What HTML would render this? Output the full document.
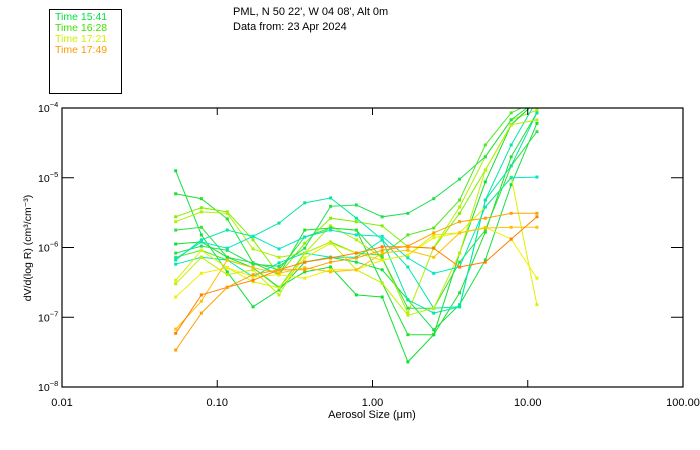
<!DOCTYPE html>
<html><head><meta charset="utf-8"><style>
html,body{margin:0;padding:0;background:#fff;}
svg{display:block;font-family:"Liberation Sans","DejaVu Sans",sans-serif;}
</style></head><body>
<svg id="chart" width="700" height="450" viewBox="0 0 700 450">
<defs><clipPath id="pc"><rect x="62" y="108" width="621" height="279"/></clipPath></defs>
<g>
<rect x="49.5" y="9.5" width="72" height="84" fill="none" stroke="#000"/>
<text x="55" y="20" font-size="10.5" fill="#00e040">Time 15:41</text>
<text x="55" y="31" font-size="10.5" fill="#40e000">Time 16:28</text>
<text x="55" y="42" font-size="10.5" fill="#d0f000">Time 17:21</text>
<text x="55" y="53" font-size="10.5" fill="#ff9a00">Time 17:49</text>
</g>
<text x="233" y="15" font-size="11">PML, N 50 22', W 04 08', Alt 0m</text>
<text x="233" y="30" font-size="11">Data from: 23 Apr 2024</text>
<g id="series" clip-path="url(#pc)"></g>
<rect x="62" y="108" width="621" height="279" fill="none" stroke="#000" stroke-width="1.2"/>
<g id="axes"></g>
<text x="372" y="418" font-size="11" text-anchor="middle">Aerosol Size (μm)</text>
<text transform="translate(31,248) rotate(-90)" font-size="10.5" text-anchor="middle">dV/d(log R) (cm³/cm⁻³)</text>
</svg>
<script>
const sizes=[0.054,0.079,0.116,0.17,0.25,0.366,0.537,0.787,1.154,1.69,2.48,3.64,5.33,7.82,11.46];
const xTicks=[0.01,0.1,1,10,100];
const xTickLabels=["0.01","0.10","1.00","10.00","100.00"];
const yTicks=[-8,-7,-6,-5,-4];
const seriesColors=["#10e040","#20e030","#80f000","#b0f000","#30e040","#00e8a0","#10e030","#20e050","#50e820","#00e8b0","#e0f000","#c0f000","#f0f000","#00e8c0","#ffc000","#ff8000","#ffa000"];
// log10 of dV/dlogR
const s1=[-4.90,-5.82,-6.35,-6.85,-6.61,-6.21,-6.14,-6.21,-6.32,-6.75,-7.18,-6.82,-6.18,-5.10,-4.22];
const s2=[-5.23,-5.30,-5.59,-6.22,-6.39,-5.75,-5.72,-5.75,-6.51,-7.25,-7.25,-6.65,-5.78,-4.70,-4.07];
const s3=[-5.56,-5.43,-5.49,-5.89,-6.39,-5.94,-5.58,-5.63,-5.69,-5.99,-6.01,-5.51,-4.89,-4.24,-3.90];
const s4=[-5.63,-5.49,-5.51,-6.02,-6.14,-6.08,-5.69,-5.89,-6.15,-6.94,-6.00,-5.42,-4.70,-4.17,-4.03];
const s5=[-5.75,-5.71,-6.14,-6.22,-6.32,-5.85,-5.72,-5.75,-6.15,-6.87,-6.87,-6.21,-5.75,-4.83,-4.34];
const s6=[-6.18,-5.89,-5.75,-5.84,-5.65,-5.36,-5.29,-5.58,-5.89,-6.75,-6.94,-6.85,-5.32,-4.83,-4.07];
const s7=[-5.95,-5.92,-6.14,-6.29,-6.57,-6.35,-6.28,-6.68,-6.71,-7.64,-7.25,-6.08,-5.06,-4.24,-3.90];
const s8=[-6.08,-5.98,-6.04,-6.24,-6.27,-6.01,-5.41,-5.39,-5.56,-5.51,-5.30,-5.02,-4.70,-4.17,-3.89];
const s9=[-6.14,-6.04,-6.18,-6.29,-6.58,-6.08,-5.92,-6.08,-6.11,-5.82,-5.72,-5.32,-4.53,-4.07,-3.89];
const s10=[-6.24,-6.14,-6.18,-6.42,-6.22,-6.08,-6.14,-6.14,-5.89,-6.28,-6.87,-6.85,-5.32,-4.53,-3.89];
const s11=[-6.47,-6.04,-6.29,-6.49,-6.58,-6.15,-5.94,-6.08,-6.18,-6.11,-5.82,-5.79,-5.42,-4.99,-6.82];
const s12=[-6.52,-6.14,-6.39,-6.32,-6.68,-6.08,-5.92,-6.32,-6.51,-6.97,-6.87,-6.08,-4.89,-4.24,-4.17];
const s13=[-6.71,-6.37,-6.29,-6.42,-6.39,-6.44,-6.32,-6.32,-6.18,-6.11,-5.86,-5.79,-5.71,-5.88,-6.44];
const s14=[-6.16,-5.92,-6.01,-5.84,-6.02,-5.85,-5.75,-5.82,-5.84,-6.15,-6.37,-6.28,-5.42,-5.00,-4.99];
const s15=[-7.17,-6.77,-6.18,-6.29,-6.37,-6.29,-6.35,-6.32,-6.08,-6.04,-6.14,-5.79,-5.72,-5.71,-5.71];
const s16=[-7.23,-6.68,-6.57,-6.47,-6.32,-6.21,-6.15,-6.08,-5.99,-5.99,-6.01,-6.28,-6.21,-5.88,-5.56];
const s17=[-7.47,-6.94,-6.57,-6.39,-6.32,-6.32,-6.21,-6.15,-6.04,-5.98,-5.79,-5.63,-5.58,-5.51,-5.51];
const allSeries=[s1,s2,s3,s4,s5,s6,s7,s8,s9,s10,s11,s12,s13,s14,s15,s16,s17];
const NS="http://www.w3.org/2000/svg";
const X0=62,X1=683,Y0=387,Y1=108;
function xScale(v){return X0+(Math.log10(v)+2)/4*(X1-X0);}
function yScale(l){return Y0-(l+8)/4*(Y0-Y1);}
const sg=document.getElementById('series');
allSeries.forEach((s,i)=>{
  const g=document.createElementNS(NS,'g');
  
  
  const pts=s.map((l,j)=>xScale(sizes[j]).toFixed(1)+','+yScale(l).toFixed(1)).join(' ');
  const pl=document.createElementNS(NS,'polyline');
  pl.setAttribute('points',pts);pl.setAttribute('fill','none');
  pl.setAttribute('stroke',seriesColors[i]);pl.setAttribute('stroke-width','1');
  
  
  g.appendChild(pl);
  s.forEach((l,j)=>{
    const r=document.createElementNS(NS,'rect');
    r.setAttribute('x',xScale(sizes[j])-1.5);r.setAttribute('y',yScale(l)-1.5);
    r.setAttribute('width',3);r.setAttribute('height',3);r.setAttribute('fill',seriesColors[i]);
    
    
    g.appendChild(r);
  });
  sg.appendChild(g);
});
const ax=document.getElementById('axes');
xTicks.forEach((t,i)=>{
  const x=xScale(t);
  [[Y0,Y0-7],[Y1,Y1+7]].forEach(p=>{
    const ln=document.createElementNS(NS,'line');
    ln.setAttribute('x1',x);ln.setAttribute('x2',x);ln.setAttribute('y1',p[0]);ln.setAttribute('y2',p[1]);
    ln.setAttribute('stroke','#000');
    
    
    ax.appendChild(ln);
  });
  const tx=document.createElementNS(NS,'text');
  tx.setAttribute('x',x);tx.setAttribute('y',406);tx.setAttribute('font-size','11');tx.setAttribute('text-anchor','middle');
  tx.textContent=xTickLabels[i];
  
  
  ax.appendChild(tx);
});
yTicks.forEach(t=>{
  const y=yScale(t);
  [[X0,X0+12],[X1,X1-12]].forEach(p=>{
    const ln=document.createElementNS(NS,'line');
    ln.setAttribute('x1',p[0]);ln.setAttribute('x2',p[1]);ln.setAttribute('y1',y);ln.setAttribute('y2',y);
    ln.setAttribute('stroke','#000');
    
    
    ax.appendChild(ln);
  });
  const tx=document.createElementNS(NS,'text');
  tx.setAttribute('x',38);tx.setAttribute('y',y+4);tx.setAttribute('font-size','10.5');
  tx.innerHTML='10<tspan dy="-5" font-size="7.5">'+String(t).replace('-','−')+'</tspan>';
  
  
  ax.appendChild(tx);
});
</script>
</body></html>
